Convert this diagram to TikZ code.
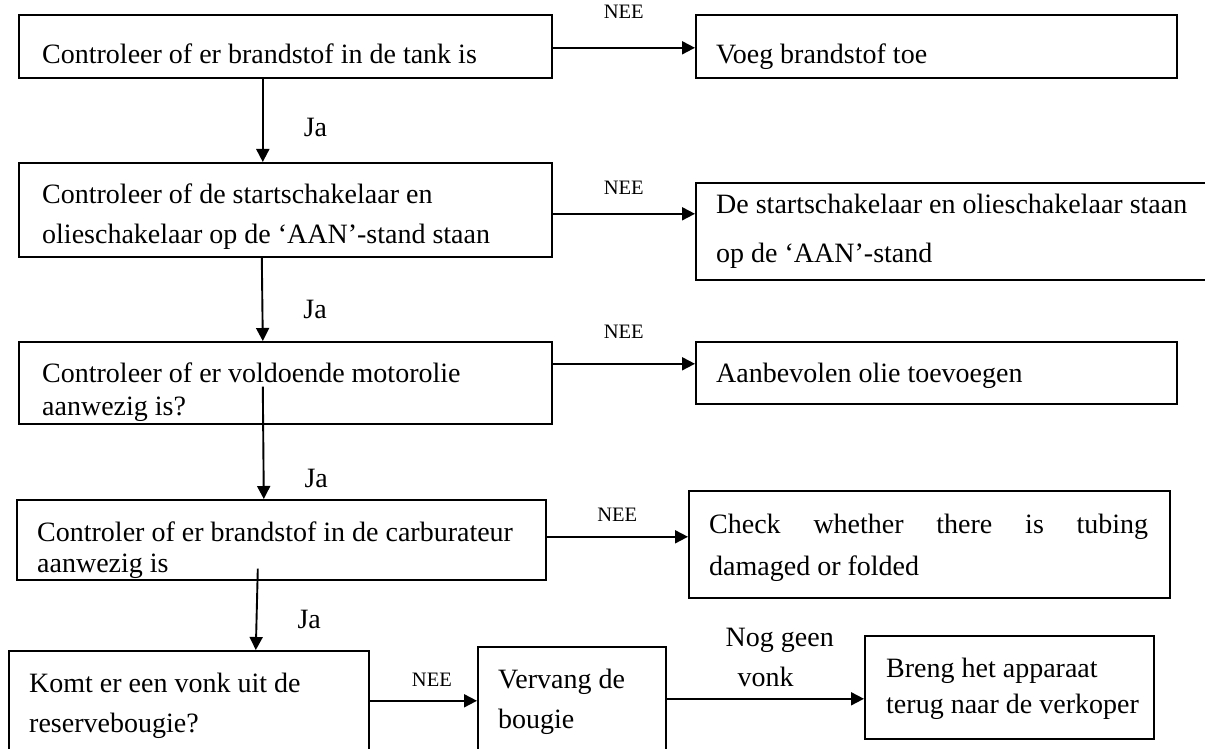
\documentclass[tikz,border=0pt]{standalone}
\usepackage{fontspec}
\setmainfont{Liberation Serif}
\usetikzlibrary{arrows.meta,positioning,calc}

\begin{document}
\begin{tikzpicture}[>={Triangle[length=13pt,width=13pt]}, x=1pt, y=-1pt]
    \tikzset{
        checkbox/.style={draw, line width=1.6pt, rectangle, anchor=north west, inner sep=0pt},
        boxtext/.style={anchor=north west, inner sep=0pt, align=left, font=\fontsize{28}{40}\selectfont},
        answer/.style={inner sep=0pt, font=\fontsize{28}{40}\selectfont},
        nee/.style={inner sep=0pt, font=\fontsize{20.5}{24}\selectfont},
        line/.style={draw, ->, line width=1.9pt}
    }
    \useasboundingbox (0,0) rectangle (1205,749);

    % left column: the checks
    \node [checkbox, minimum width=533pt, minimum height=63pt] (tank) at (18,14) {};
    \node [checkbox, minimum width=533pt, minimum height=94pt] (switch) at (18,162) {};
    \node [checkbox, minimum width=533pt, minimum height=82pt] (oil) at (18,341) {};
    \node [checkbox, minimum width=529pt, minimum height=80pt] (carb) at (16,499) {};
    \node [checkbox, minimum width=360pt, minimum height=105pt] (spark) at (8,650) {};

    % right column: what to do
    \node [checkbox, minimum width=481pt, minimum height=63pt] (fuel) at (695,14) {};
    \node [checkbox, minimum width=520pt, minimum height=97pt] (switchon) at (695,182) {};
    \node [checkbox, minimum width=481pt, minimum height=62pt] (addoil) at (695,341) {};
    \node [checkbox, minimum width=481pt, minimum height=107pt] (tube) at (688,490) {};
    \node [checkbox, minimum width=188pt, minimum height=109pt] (plug) at (477,646) {};
    \node [checkbox, minimum width=289pt, minimum height=103pt] (dealer) at (864,635) {};

    \node [boxtext] (tanktxt) at ($(tank.north west)+(24,30)$) {Controleer of er brandstof in de tank is};
    \node [boxtext] (switchtxt) at ($(switch.north west)+(24,22)$) {Controleer of de startschakelaar en\\olieschakelaar op de ‘AAN’-stand staan};
    \node [boxtext, font=\fontsize{28}{33}\selectfont] (oiltxt) at ($(oil.north west)+(24,22)$) {Controleer of er voldoende motorolie\\aanwezig is?};
    \node [boxtext, font=\fontsize{28}{31}\selectfont] (carbtxt) at ($(carb.north west)+(21,23)$) {Controler of er brandstof in de carburateur\\aanwezig is};
    \node [boxtext] (sparktxt) at ($(spark.north west)+(21,23)$) {Komt er een vonk uit de\\reservebougie?};

    \node [boxtext] (fueltxt) at ($(fuel.north west)+(21,30)$) {Voeg brandstof toe};
    \node [boxtext, font=\fontsize{28}{49}\selectfont] (switchontxt) at ($(switchon.north west)+(21,12)$) {De startschakelaar en olieschakelaar staan\\op de ‘AAN’-stand};
    \node [boxtext] (addoiltxt) at ($(addoil.north west)+(21,22)$) {Aanbevolen olie toevoegen};
    \node [boxtext, text width=439pt, align=justify, font=\fontsize{28}{42}\selectfont] (tubetxt) at ($(tube.north west)+(21,24)$) {\noindent Check whether there is tubing\linebreak damaged or folded};
    \node [boxtext] (plugtxt) at ($(plug.north west)+(21,23)$) {Vervang de\\bougie};
    \node [boxtext, font=\fontsize{28}{36}\selectfont] (dealertxt) at ($(dealer.north west)+(22,23)$) {Breng het apparaat\\terug naar de verkoper};

    % Ja: next check
    \path [line] ([xshift=-22.5pt]tank.south) -- node[answer, pos=0.59, right=40pt] {Ja} ([xshift=-22.5pt]switch.north);
    \path [line] ([xshift=-23.5pt]switch.south) -- node[answer, pos=0.62, right=40pt] {Ja} ([xshift=-22.5pt]oil.north);
    \path [line] ([xshift=-22.5pt, yshift=38pt]oil.south) -- node[answer, pos=0.82, right=40pt] {Ja} ([xshift=-17.5pt]carb.north);
    \path [line] ([xshift=-23.5pt, yshift=12pt]carb.south) -- node[answer, pos=0.62, right=40pt] {Ja} ([xshift=67pt]spark.north);

    % NEE: remedy
    \path [line] ([yshift=-1.5pt]tank.east) -- node[nee, above=28pt] {NEE} ([yshift=-1.5pt]fuel.west);
    \path [line] ([yshift=-4pt]switch.east) -- node[nee, above=18pt] {NEE} ([yshift=17.5pt]switchon.west);
    \path [line] ([yshift=19pt]oil.east) -- node[nee, above=24pt] {NEE} ([yshift=9pt]addoil.west);
    \path [line] ([yshift=3pt]carb.east) -- node[nee, above=14pt] {NEE} ([yshift=7.5pt]tube.west);
    \path [line] ([yshift=2.5pt]spark.east) -- node[nee, pos=0.58, above=13pt] {NEE} ([yshift=0.5pt]plug.west);
    \path [line] ([yshift=2.5pt]plug.east) -- node[answer, align=left, pos=0.573, above=11pt] {Nog geen\\\hspace*{12pt}vonk} ([yshift=-11.5pt]dealer.west);
\end{tikzpicture}
\end{document}
